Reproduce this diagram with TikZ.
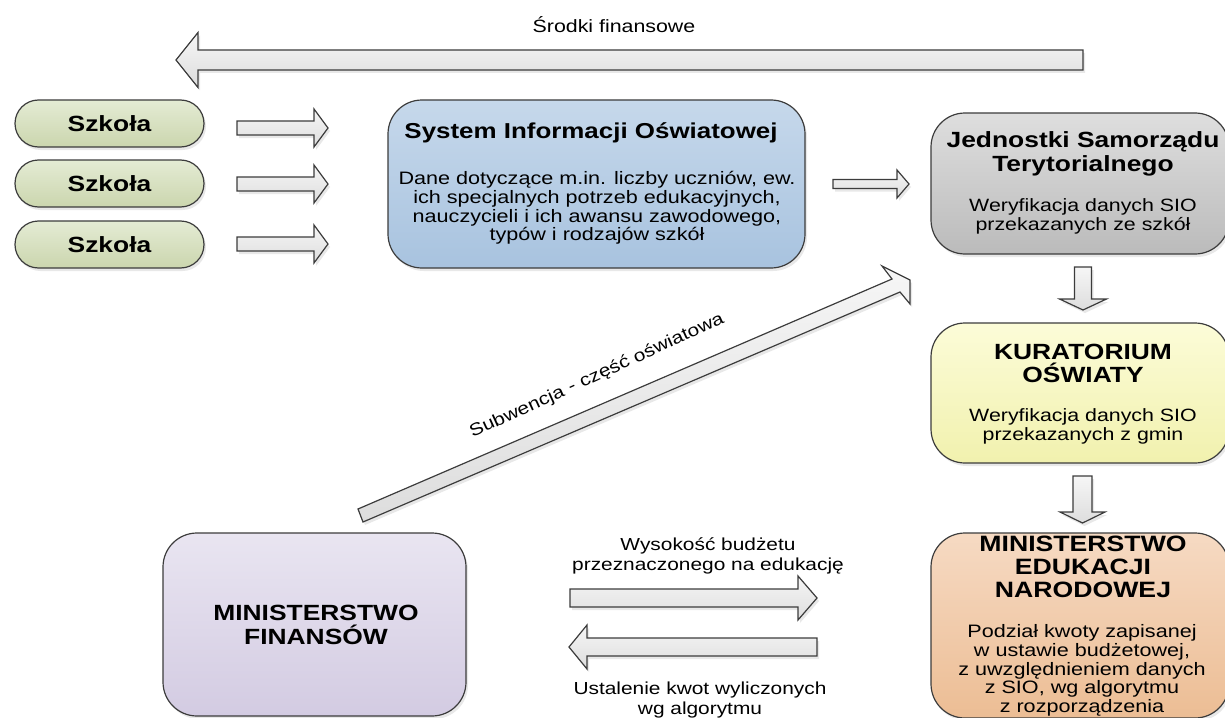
\documentclass[tikz,border=0pt]{standalone}
\usepackage{fontspec}
\setmainfont{Liberation Sans}[FakeStretch=1.2]
\usetikzlibrary{shadows}

\definecolor{schoolTop}{HTML}{E4EBD4}
\definecolor{schoolBot}{HTML}{CBD6AE}
\definecolor{sioTop}{HTML}{C6D8EB}
\definecolor{sioBot}{HTML}{A8C3DF}
\definecolor{jstTop}{HTML}{DEDEDE}
\definecolor{jstBot}{HTML}{BBBBBB}
\definecolor{koTop}{HTML}{FCFCD8}
\definecolor{koBot}{HTML}{F1F1AE}
\definecolor{menTop}{HTML}{F6DAC3}
\definecolor{menBot}{HTML}{ECBD94}
\definecolor{mfTop}{HTML}{E9E5F1}
\definecolor{mfBot}{HTML}{D3CBE2}
\definecolor{arrowTop}{HTML}{F6F6F6}
\definecolor{arrowBot}{HTML}{DDDDDD}
\definecolor{edge}{HTML}{3C3C3C}

\tikzset{
  softshadow/.style={drop shadow={opacity=0.18, shadow xshift=1pt, shadow yshift=-1.5pt}},
  box/.style={draw=edge, line width=0.6pt, rounded corners=17pt, softshadow},
  school/.style={box, rounded corners=11.75pt, minimum width=94.5pt, minimum height=23.5pt,
    top color=schoolTop, bottom color=schoolBot, font=\bfseries\fontsize{11}{13}\selectfont},
  headtext/.style={align=center, font=\bfseries\fontsize{11}{12}\selectfont},
  bodytext/.style={align=center, font=\fontsize{8.9}{9.5}\selectfont},
  labeltext/.style={align=center, font=\fontsize{8.7}{10}\selectfont},
  arrowfill/.style={draw=edge, line width=0.6pt, line join=miter, top color=arrowTop, bottom color=arrowBot, softshadow},
  pics/barrow/.style args={#1/#2/#3/#4}{code={
    \draw[arrowfill] (0,-#2) -- ({#1-#4},-#2) -- ({#1-#4},-#3) -- (#1,0) -- ({#1-#4},#3) -- ({#1-#4},#2) -- (0,#2) -- cycle;
  }}
}

\begin{document}
\begin{tikzpicture}[x=0.5pt, y=-0.5pt]
\useasboundingbox (0,0) rectangle (1225,717);

% top flow of money
\pic[rotate=180] (money) at (1083,60) {barrow={907/10/27.5/22}};
\node[labeltext, font=\fontsize{8.9}{10}\selectfont] (moneylbl) at (614,25) {Środki finansowe};

% schools
\node[school] (school1) at (109.5,123.5) {Szkoła};
\node[school] (school2) at (109.5,183.5) {Szkoła};
\node[school] (school3) at (109.5,244.5) {Szkoła};
\pic (schoolflow1) at (237,128) {barrow={91/7/19/14}};
\pic (schoolflow2) at (237,184) {barrow={91/7/19/14}};
\pic (schoolflow3) at (237,244) {barrow={91/7/19/14}};

% SIO
\node[box, top color=sioTop, bottom color=sioBot, minimum width=208.5pt, minimum height=84pt] (sio) at (596.5,184) {};
\node[headtext, font=\bfseries\fontsize{10.8}{12}\selectfont] (siohead) at (591,133) {System Informacji Oświatowej};
\node[bodytext, font=\fontsize{9}{9.35}\selectfont] (siobody) at (597,208) {Dane dotyczące m.in. liczby uczniów, ew.\\ich specjalnych potrzeb edukacyjnych,\\nauczycieli i ich awansu zawodowego,\\typów i rodzajów szkół};
\pic (sioflow) at (833,184) {barrow={76/4.5/14/12}};

% JST
\node[box, top color=jstTop, bottom color=jstBot, minimum width=149pt, minimum height=70.5pt] (jst) at (1080,183.5) {};
\node[headtext] (jsthead) at (1083,154) {Jednostki Samorządu\\Terytorialnego};
\node[bodytext] (jstbody) at (1083,216.5) {Weryfikacja danych SIO\\przekazanych ze szkół};
\pic[rotate=-90] (jstflow) at (1083,267) {barrow={43/8.5/23.5/11}};

% KO
\node[box, top color=koTop, bottom color=koBot, minimum width=149pt, minimum height=70pt] (ko) at (1080,393) {};
\node[headtext, font=\bfseries\fontsize{11}{11.5}\selectfont] (kohead) at (1083,363.5) {KURATORIUM\\OŚWIATY};
\node[bodytext] (kobody) at (1083,426.5) {Weryfikacja danych SIO\\przekazanych z gmin};
\pic[rotate=-90] (koflow) at (1082.5,476) {barrow={47/9.5/22.5/11}};

% MEN
\node[box, top color=menTop, bottom color=menBot, minimum width=149pt, minimum height=92.5pt] (men) at (1080,625.5) {};
\node[headtext, font=\bfseries\fontsize{11.1}{11.5}\selectfont] (menhead) at (1083,567) {MINISTERSTWO\\EDUKACJI\\NARODOWEJ};
\node[bodytext, font=\fontsize{9}{9.4}\selectfont] (menbody) at (1082,670.5) {Podział kwoty zapisanej\\w ustawie budżetowej,\\z uwzględnieniem danych\\z SIO, wg algorytmu\\z rozporządzenia};

% MF
\node[box, top color=mfTop, bottom color=mfBot, minimum width=151.5pt, minimum height=91.5pt] (mf) at (314.5,624.5) {};
\node[headtext, font=\bfseries\fontsize{11}{12}\selectfont] (mfhead) at (316,625) {MINISTERSTWO\\FINANSÓW};

% budget arrows
\pic (budget) at (570,598) {barrow={247/9/22/19}};
\node[labeltext] (budgetlbl) at (708,555.5) {Wysokość budżetu\\przeznaczonego na edukację};
\pic[rotate=180] (quota) at (817,647) {barrow={248/9/22/18}};
\node[labeltext] (quotalbl) at (700,699.5) {Ustalenie kwot wyliczonych\\wg algorytmu};

% subvention arrow, tip cut off
\draw[arrowfill] (358,509) -- (892,279) -- (882,266) -- (910,280) -- (910,304) -- (900,292) -- (363,522) -- cycle;
\node[labeltext, rotate=24.5] (subwlbl) at (597,376) {Subwencja - część oświatowa};
\end{tikzpicture}
\end{document}
